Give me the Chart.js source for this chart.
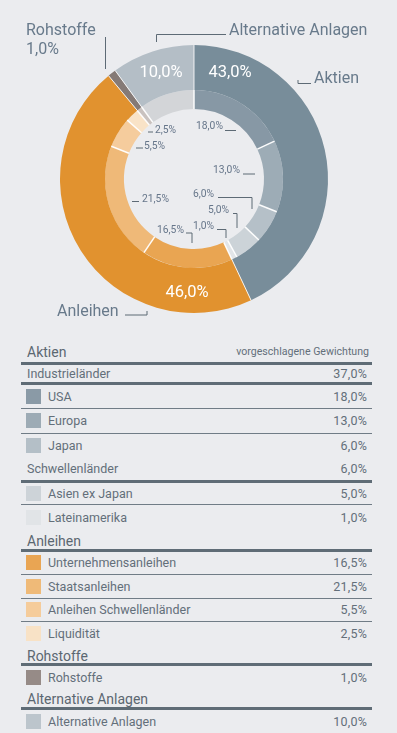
<!DOCTYPE html>
<html><head><meta charset="utf-8">
<script src="https://cdn.jsdelivr.net/npm/chart.js@4/dist/chart.umd.min.js"></script>
<style>
html,body{margin:0;padding:0;background:#ebecef;width:397px;height:733px;overflow:hidden;font-family:Roboto,'Liberation Sans',sans-serif;color:#636f7a;}
#wrap{position:absolute;left:0;top:0;width:397px;height:335px;}
#table{position:absolute;left:21px;top:340px;width:351px;}
.row{display:flex;align-items:center;justify-content:space-between;box-sizing:content-box;font-size:12.5px;}
.row.b1{border-bottom:1px solid #707c86;}
.row.b3{border-bottom:3px solid #5f6c76;}
.row .l{display:flex;align-items:center;}
.row.h .l{font-size:14px;padding-left:6px;color:#5b6771;padding-top:3px}
.row.s .l{padding-left:6px}
.sw{width:15px;height:15px;margin-left:5px;margin-right:7px;}
.v{padding-right:5px;letter-spacing:0.2px}
.row.h .v{font-size:10.6px;letter-spacing:0;padding-right:3px;padding-top:2px}
</style></head>
<body>
<div id="wrap"><canvas id="c" width="397" height="335"></canvas></div>
<div id="table"></div>
<script>
// ---- data ----
const groupLabels = ['Aktien', 'Anleihen', 'Rohstoffe', 'Alternative Anlagen'];
const groupValues = [43.0, 46.0, 1.0, 10.0];
const detailLabels = ['USA', 'Europa', 'Japan', 'Asien ex Japan', 'Lateinamerika',
  'Unternehmensanleihen', 'Staatsanleihen', 'Anleihen Schwellenländer', 'Liquidität',
  'Rohstoffe', 'Alternative Anlagen'];
const detailValues = [18.0, 13.0, 6.0, 5.0, 1.0, 16.5, 21.5, 5.5, 2.5, 1.0, 10.0];
const detailGroup = [0, 0, 0, 0, 0, 1, 1, 1, 1, 2, 3];
const regionLabels = ['Industrieländer', 'Schwellenländer'];
const regionValues = [37.0, 6.0];
const detailRegion = [0, 0, 0, 1, 1, -1, -1, -1, -1, -1, -1];
const columnHeader = 'vorgeschlagene Gewichtung';

// ---- styles ----
const groupColors = ['#788d9a', '#e1922f', '#857a76', '#b4bec6'];
const detailColors = ['#8798a5', '#9dacb6', '#b5c0c8', '#ccd3d8', '#e2e5e8',
  '#e9a552', '#efb978', '#f5cc9d', '#f9e3c7', '#c9c2bf', '#d3d5d8'];
const swatchColors = ['#8a9aa6', '#9dabb5', '#b4bfc7', '#cdd3d8', '#e1e4e7',
  '#e9a553', '#efba78', '#f5cc9b', '#f8e2c6', '#968b87', '#bcc5cc'];

const fmt = v => v.toFixed(1).replace('.', ',') + '%';

// label layout (offsets from chart centre: text-left x, baseline y; leader polylines)
const innerLayout = [
  {i: 0, x: 2, y: -50, line: [[31, -48.5], [42, -48.5]]},
  {i: 1, x: 19, y: -6, line: [[49, -5], [61, -5]]},
  {i: 2, x: -1, y: 18, line: [[24, 18.5], [58, 18.5], [58, 30]]},
  {i: 3, x: 14, y: 34, line: [[39, 34.5], [43, 34.5], [43, 49]]},
  {i: 4, x: -1, y: 50, line: [[23, 50.5], [32, 50.5], [32, 59]]},
  {i: 5, x: -37, y: 53.5, line: [[-8, 54], [-2, 54], [-2, 64]]},
  {i: 6, x: -52, y: 22.5, line: [[-62, 22.5], [-55, 22.5]]},
  {i: 7, x: -50, y: -30.5, line: [[-58, -31], [-51, -31]]},
  {i: 8, x: -39, y: -46.5, line: [[-46, -47], [-41, -47]]}
];
const outerValueLayout = [
  {i: 0, x: 36, y: -102}, {i: 1, x: -7, y: 118}, {i: 3, x: -33, y: -102}
];

const overlay = {
  id: 'overlay',
  afterDatasetsDraw(chart) {
    const ctx = chart.ctx;
    const sepW = [1, 1.5];
    const sepC = ['rgba(255,255,255,0.85)', 'rgba(255,255,255,0.95)'];
    chart.data.datasets.forEach((ds, di) => {
      chart.getDatasetMeta(di).data.forEach(arc => {
        const p = arc.getProps(['x', 'y', 'startAngle', 'innerRadius', 'outerRadius']);
        const c = Math.cos(p.startAngle), s = Math.sin(p.startAngle);
        ctx.save();
        ctx.strokeStyle = sepC[di]; ctx.lineWidth = sepW[di];
        ctx.beginPath();
        ctx.moveTo(p.x + c * p.innerRadius, p.y + s * p.innerRadius);
        ctx.lineTo(p.x + c * p.outerRadius, p.y + s * p.outerRadius);
        ctx.stroke();
        ctx.restore();
      });
    });
    const a0 = chart.getDatasetMeta(0).data[0];
    const cx = a0.x, cy = a0.y;
    const fam = "Roboto, 'Liberation Sans', sans-serif";
    ctx.save();
    ctx.fillStyle = '#ffffff';
    ctx.font = '16.5px ' + fam;
    ctx.textAlign = 'center';
    ctx.textBaseline = 'alphabetic';
    outerValueLayout.forEach(o => ctx.fillText(fmt(groupValues[o.i]), cx + o.x, cy + o.y));
    ctx.font = '10.3px ' + fam;
    ctx.textAlign = 'left';
    ctx.fillStyle = '#66768a';
    ctx.strokeStyle = '#5d6a75';
    ctx.lineWidth = 1;
    innerLayout.forEach(o => {
      ctx.fillText(fmt(detailValues[o.i]), cx + o.x, cy + o.y);
      ctx.beginPath();
      o.line.forEach((pt, k) => k ? ctx.lineTo(cx + pt[0], cy + pt[1]) : ctx.moveTo(cx + pt[0], cy + pt[1]));
      ctx.stroke();
    });
    ctx.font = '16px ' + fam;
    ctx.fillStyle = '#687a8b';
    ctx.fillText(groupLabels[0], cx + 120, cy - 96);
    ctx.fillText(groupLabels[3], cx + 35, cy - 144);
    ctx.fillText(groupLabels[2], cx - 168, cy - 144);
    ctx.fillText(fmt(groupValues[2]), cx - 168, cy - 125);
    ctx.fillText(groupLabels[1], cx - 137, cy + 137);
    const lines = [
      [[104, -99], [104, -95.5], [117, -95.5]],
      [[-37.5, -137], [-37.5, -144.5], [32, -144.5]],
      [[-88.5, -142], [-88.5, -110]],
      [[-69, 136], [-47, 136], [-47, 132]]
    ];
    lines.forEach(l => {
      ctx.beginPath();
      l.forEach((pt, k) => k ? ctx.lineTo(cx + pt[0], cy + pt[1]) : ctx.moveTo(cx + pt[0], cy + pt[1]));
      ctx.stroke();
    });
    ctx.restore();
  }
};

new Chart(document.getElementById('c'), {
  type: 'doughnut',
  data: {
    labels: detailLabels,
    datasets: [
      {data: groupValues, backgroundColor: groupColors, borderWidth: 0, hoverBorderWidth: 0, weight: 45},
      {data: detailValues, backgroundColor: detailColors, borderWidth: 0, hoverBorderWidth: 0, weight: 19}
    ]
  },
  options: {
    responsive: false,
    animation: false,
    devicePixelRatio: 1,
    events: [],
    cutout: '52.24%',
    layout: {padding: {left: 60, right: 69, top: 45, bottom: 22}},
    plugins: {legend: {display: false}, tooltip: {enabled: false}}
  },
  plugins: [overlay]
});

// ---- table ----
const rowHeights = [21.5, 17.5, 22.5, 24.3, 23.4, 22.6, 21.4, 25.6, 18.4, 21.6, 22.9, 22.5, 23.6, 17.7, 22, 19, 21.5];
const rows = [];
groupLabels.forEach((g, gi) => {
  rows.push({type: 'h', label: g, value: gi === 0 ? columnHeader : ''});
  let lastRegion = -2;
  detailLabels.forEach((d, di) => {
    if (detailGroup[di] !== gi) return;
    const r = detailRegion[di];
    if (r >= 0 && r !== lastRegion) {
      rows.push({type: 's', label: regionLabels[r], value: fmt(regionValues[r])});
      lastRegion = r;
    }
    rows.push({type: 'i', label: d, value: fmt(detailValues[di]), color: swatchColors[di], idx: di});
  });
});
const table = document.getElementById('table');
rows.forEach((r, k) => {
  const div = document.createElement('div');
  let border = '';
  const next = rows[k + 1];
  if (r.type === 'h' || r.type === 's') border = 'b3';
  else if (next && next.type === 'i') border = 'b1';
  div.className = 'row ' + r.type + ' ' + border;
  div.style.height = rowHeights[k] + 'px';
  const l = document.createElement('div');
  l.className = 'l';
  if (r.type === 'i') {
    const sw = document.createElement('div');
    sw.className = 'sw';
    sw.style.background = r.color;
    l.appendChild(sw);
  }
  l.appendChild(document.createTextNode(r.label));
  const v = document.createElement('div');
  v.className = 'v';
  v.textContent = r.value;
  div.appendChild(l);
  div.appendChild(v);
  table.appendChild(div);
});
</script>
</body></html>
